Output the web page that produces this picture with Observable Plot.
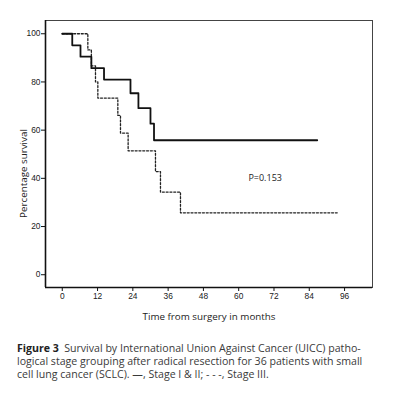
<!DOCTYPE html>
<html>
<head>
<meta charset="utf-8">
<script src="https://cdn.jsdelivr.net/npm/d3@7"></script>
<script src="https://cdn.jsdelivr.net/npm/@observablehq/plot@0.6"></script>
<style>
  html, body { margin: 0; padding: 0; background: #fff; }
  #chart { width: 394px; }
  .caption { font-family: "Open Sans", sans-serif; font-size: 10.6px; color: #3a3a3a; line-height: 13px; padding-left: 17px; margin-top: 12px; white-space: nowrap; }
  .caption b { color: #222; }
</style>
</head>
<body>
<div id="chart"></div>
<div class="caption" id="cap"></div>
<script>
// Stage I & II (solid)
const stage12Months   = [0, 3.4, 6.2, 9.9, 14.2, 23.2, 25.9, 30.0, 31.2, 86.7];
const stage12Survival = [100, 95.2, 90.5, 85.7, 81.0, 75.3, 69.1, 62.7, 55.8, 55.8];
// Stage III (dashed)
const stage3Months    = [0, 8.7, 9.9, 11.3, 12.1, 18.9, 19.8, 22.4, 31.7, 33.4, 40.2, 93.5];
const stage3Survival  = [100, 93.3, 86.7, 80.0, 73.3, 66.1, 58.8, 51.4, 42.8, 34.3, 25.7, 25.7];

const xTicks = [0, 12, 24, 36, 48, 60, 72, 84, 96];
const yTicks = [0, 20, 40, 60, 80, 100];
const pLabel = "P=0.153";
const xLabel = "Time from surgery in months";
const yLabel = "Percentage survival";
const captionBold = "Figure 3";
const captionLines = [
  "Survival by International Union Against Cancer (UICC) patho-",
  "logical stage grouping after radical resection for 36 patients with small",
  "cell lung cancer (SCLC). \u2014, Stage I & II; - - -, Stage III."
];

const s12 = stage12Months.map((m, i) => ({month: m, survival: stage12Survival[i]}));
const s3 = stage3Months.map((m, i) => ({month: m, survival: stage3Survival[i]}));

const xDom = [-5.7, 105.5];
const yDom = [-5.3, 105.5];

const chart = Plot.plot({
  width: 394,
  height: 330,
  marginTop: 20,
  marginLeft: 45,
  marginRight: 22,
  marginBottom: 43,
  style: {fontFamily: "'Liberation Sans', Arial, sans-serif", fontSize: "8.4px", color: "#222", background: "#fff"},
  x: {domain: xDom},
  y: {domain: yDom},
  marks: [
    Plot.frame({stroke: "#444", strokeWidth: 1}),
    Plot.line(s3, {x: "month", y: "survival", curve: "step-after", stroke: "#222", strokeWidth: 1.3, strokeDasharray: "2,1.8"}),
    Plot.line(s12, {x: "month", y: "survival", curve: "step-after", stroke: "#111", strokeWidth: 1.8}),
    Plot.ruleX([xDom[0]], {stroke: "#111", strokeWidth: 1.6}),
    Plot.ruleY([yDom[0]], {stroke: "#111", strokeWidth: 1.6}),
    Plot.axisX({ticks: xTicks, tickSize: 4, tickPadding: 2, label: null, stroke: "#111"}),
    Plot.axisY({ticks: yTicks, tickSize: 4, tickPadding: 1, label: null, stroke: "#111"}),
    Plot.text([pLabel], {x: 69, y: 40, text: d => d, fontSize: 9, fontFamily: "'Open Sans', sans-serif", fill: "#222"}),
    Plot.text([xLabel], {frameAnchor: "bottom", dy: 32, text: d => d, fontSize: 9.8, fontFamily: "'Open Sans', sans-serif", fill: "#222"}),
    Plot.text([yLabel], {x: xDom[0], y: 42, dx: -22, rotate: -90, text: d => d, fontSize: 9.8, fontFamily: "'Open Sans', sans-serif", fill: "#222"})
  ]
});
document.getElementById("chart").appendChild(chart);

const cap = document.getElementById("cap");
captionLines.forEach((line, i) => {
  const div = document.createElement("div");
  if (i === 0) {
    const b = document.createElement("b");
    b.textContent = captionBold;
    div.appendChild(b);
    div.appendChild(document.createTextNode("\u2002" + line));
  } else {
    div.textContent = line;
  }
  cap.appendChild(div);
});
</script>
</body>
</html>
